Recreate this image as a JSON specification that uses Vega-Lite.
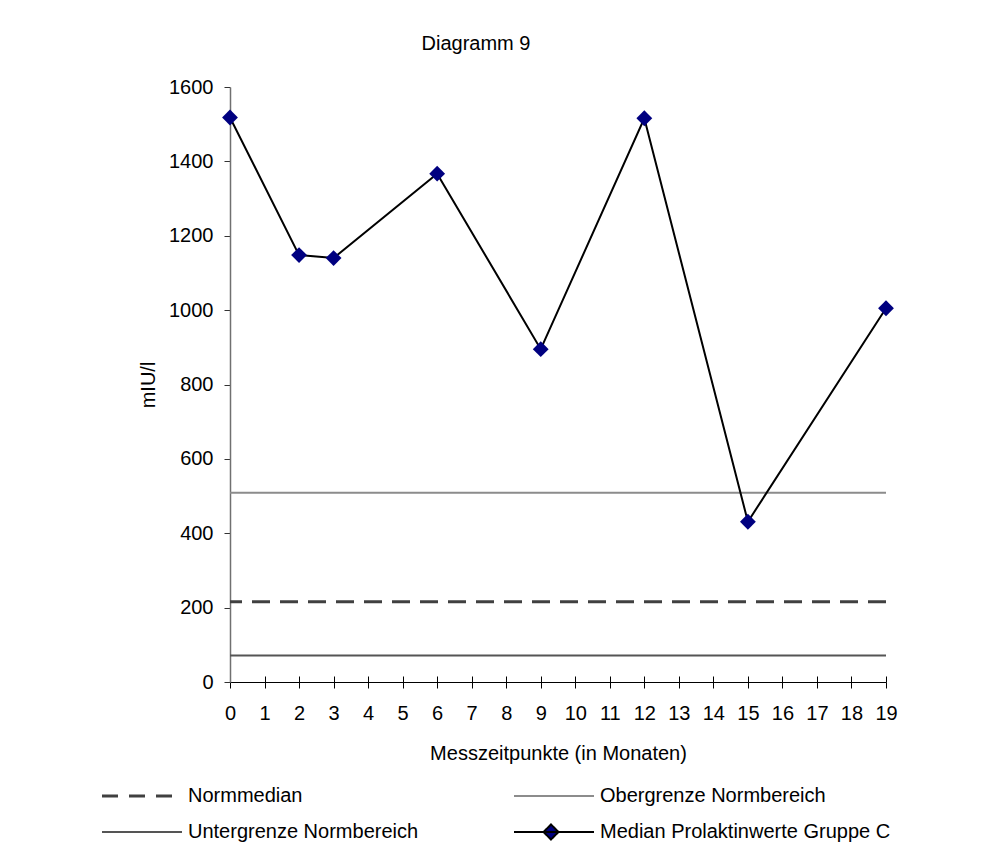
{
  "$schema": "https://vega.github.io/schema/vega-lite/v6.json",
  "width": 656,
  "height": 595,
  "autosize": {"type": "none"},
  "padding": {"left": 230, "top": 87, "right": 99, "bottom": 177},
  "background": "white",
  "title": {
    "text": "Diagramm 9",
    "frame": "group",
    "anchor": "middle",
    "dx": -82,
    "offset": 23,
    "fontSize": 20,
    "font": "Liberation Sans",
    "fontWeight": "normal",
    "color": "black"
  },
  "config": {
    "view": {"stroke": null},
    "font": "Liberation Sans",
    "axis": {
      "grid": false,
      "labelFont": "Liberation Sans",
      "labelFontSize": 20,
      "labelColor": "black",
      "titleFont": "Liberation Sans",
      "titleFontSize": 20,
      "titleFontWeight": "normal",
      "titleColor": "black"
    },
    "legend": {
      "labelFont": "Liberation Sans",
      "labelFontSize": 20,
      "labelColor": "black"
    }
  },
  "resolve": {"axis": {"x": "independent", "y": "independent"}},
  "layer": [
    {
      "data": {
        "values": [
          {"series": "Normmedian", "value": 216},
          {"series": "Obergrenze Normbereich", "value": 509},
          {"series": "Untergrenze Normbereich", "value": 71}
        ]
      },
      "mark": {"type": "rule"},
      "encoding": {
        "y": {
          "field": "value",
          "type": "quantitative",
          "scale": {"domain": [0, 1600], "nice": false},
          "axis": {
            "title": "mIU/l",
            "values": [0, 200, 400, 600, 800, 1000, 1200, 1400, 1600],
            "tickCount": 20,
            "format": "d",
            "tickSize": 6,
            "labelPadding": 11,
            "titlePadding": 10,
            "domainColor": "#707070",
            "domainWidth": 1.5,
            "tickColor": "#333333",
            "tickWidth": 1
          }
        },
        "color": {
          "field": "series",
          "type": "nominal",
          "scale": {
            "domain": ["Normmedian", "Obergrenze Normbereich", "Untergrenze Normbereich", "Median Prolaktinwerte Gruppe C"],
            "range": ["#404040", "#8c8c8c", "#555555", "#000000"]
          },
          "legend": {
            "title": null,
            "orient": "none",
            "direction": "horizontal",
            "legendX": -128,
            "legendY": 699,
            "columns": 2,
            "padding": 0,
            "symbolSize": 400,
            "labelOffset": 66,
            "columnPadding": 91,
            "rowPadding": 14,
            "labelLimit": 400,
            "encode": {
              "symbols": {
                "update": {
                  "shape": {"signal": "datum.value === 'Median Prolaktinwerte Gruppe C' ? 'M-1,0H7M2.7,-0.75L3.45,0L2.7,0.75L1.95,0Z' : 'M-1,0H7'"},
                  "strokeDash": {"signal": "datum.value === 'Normmedian' ? [16, 11] : [1, 0]"},
                  "strokeWidth": {"signal": "datum.value === 'Normmedian' ? 3 : 2"},
                  "fill": {"value": "#000080"},
                  "opacity": {"value": 1}
                }
              }
            }
          }
        },
        "strokeDash": {
          "condition": {"test": "datum.series === 'Normmedian'", "value": [18, 10]},
          "value": [1, 0]
        },
        "strokeWidth": {
          "condition": {"test": "datum.series === 'Normmedian'", "value": 3},
          "value": 2
        }
      }
    },
    {
      "data": {
        "values": [
          {"month": 0, "value": 1518, "series": "Median Prolaktinwerte Gruppe C"},
          {"month": 2, "value": 1148, "series": "Median Prolaktinwerte Gruppe C"},
          {"month": 3, "value": 1140, "series": "Median Prolaktinwerte Gruppe C"},
          {"month": 6, "value": 1367, "series": "Median Prolaktinwerte Gruppe C"},
          {"month": 9, "value": 895, "series": "Median Prolaktinwerte Gruppe C"},
          {"month": 12, "value": 1516, "series": "Median Prolaktinwerte Gruppe C"},
          {"month": 15, "value": 431, "series": "Median Prolaktinwerte Gruppe C"},
          {"month": 19, "value": 1005, "series": "Median Prolaktinwerte Gruppe C"}
        ]
      },
      "resolve": {"axis": {"x": "independent"}},
      "layer": [
        {
          "mark": {"type": "line", "strokeWidth": 2},
          "encoding": {
            "x": {
              "field": "month",
              "type": "quantitative",
              "scale": {"domain": [0, 19], "nice": false},
              "axis": {
                "title": "Messzeitpunkte (in Monaten)",
                "values": [0, 1, 2, 3, 4, 5, 6, 7, 8, 9, 10, 11, 12, 13, 14, 15, 16, 17, 18, 19],
                "tickCount": 40,
                "format": "d",
                "tickSize": 6,
                "labelPadding": 15,
                "titlePadding": 20,
                "labelFlush": false,
                "labelOverlap": false,
                "domainColor": "#000000",
                "tickColor": "#000000"
              }
            },
            "y": {
              "field": "value",
              "type": "quantitative",
              "axis": {
                "orient": "right",
                "offset": -656,
                "values": [0, 200, 400, 600, 800, 1000, 1200, 1400, 1600],
                "tickCount": 20,
                "labels": false,
                "domain": false,
                "title": null,
                "tickSize": 7,
                "tickColor": "#333333",
                "tickWidth": 1
              }
            },
            "color": {"field": "series", "type": "nominal"}
          }
        },
        {
          "mark": {"type": "point", "shape": "diamond", "filled": true, "color": "#000080", "size": 250, "opacity": 1},
          "encoding": {
            "x": {
              "field": "month",
              "type": "quantitative",
              "axis": {
                "orient": "top",
                "offset": -595,
                "values": [0, 1, 2, 3, 4, 5, 6, 7, 8, 9, 10, 11, 12, 13, 14, 15, 16, 17, 18, 19],
                "tickCount": 40,
                "labels": false,
                "domain": false,
                "title": null,
                "tickSize": 6,
                "tickColor": "#000000"
              }
            },
            "y": {"field": "value", "type": "quantitative", "axis": null}
          }
        }
      ]
    }
  ]
}
